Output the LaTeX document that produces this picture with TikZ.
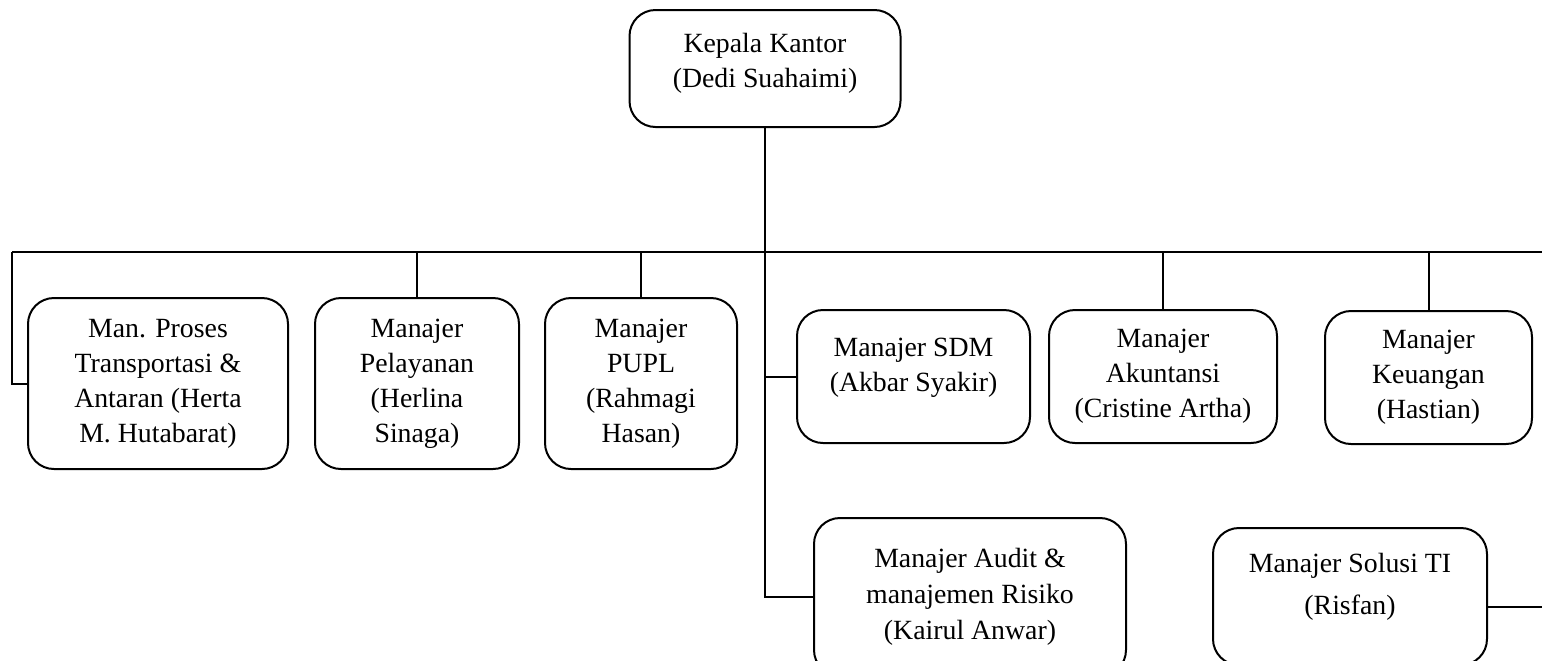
\documentclass[tikz,border=0pt]{standalone}
\usepackage{fontspec}
\setmainfont{Liberation Serif}
\tikzset{
  jabatan/.style={draw, line width=1pt, rounded corners=13pt, align=center,
    inner sep=0pt, font=\fontsize{13.9}{17.5}\selectfont},
  garis/.style={line width=1pt}
}
\begin{document}
\begin{tikzpicture}[x=0.5pt, y=-0.5pt]
            \useasboundingbox (0,0) rectangle (1542,660);
            \clip (0,0) rectangle (1542,660);

            \node (kepala) [jabatan, minimum width=135.5pt, minimum height=58.5pt] at (765,68.5) {Kepala Kantor\\(Dedi Suahaimi)\\[-9.5pt]};

            \node (proses) [jabatan, minimum width=130pt, minimum height=85.5pt] at (158,383.5) {Man. Proses\\Transportasi \&\\Antaran (Herta\\M. Hutabarat)};
            \node (pelayanan) [jabatan, minimum width=102pt, minimum height=85.5pt] at (417,383.5) {Manajer\\Pelayanan\\(Herlina\\Sinaga)};
            \node (pupl) [jabatan, minimum width=96pt, minimum height=85.5pt] at (641,383.5) {Manajer\\PUPL\\(Rahmagi\\Hasan)};
            \node (sdm) [jabatan, minimum width=116.5pt, minimum height=66.5pt] at (913.5,376.5) {Manajer SDM\\(Akbar Syakir)\\[-5.5pt]};
            \node (akuntansi) [jabatan, minimum width=114pt, minimum height=66.5pt] at (1163,376.5) {Manajer\\Akuntansi\\(Cristine Artha)};
            \node (keuangan) [jabatan, minimum width=103.5pt, minimum height=66.5pt] at (1428.5,377.5) {Manajer\\Keuangan\\(Hastian)};

            \node (audit) [jabatan, minimum width=156pt, minimum height=79pt] at (970,597) {Manajer Audit \&\\[0.5pt]manajemen Risiko\\[0.5pt](Kairul Anwar)};
            \node (solusi) [jabatan, minimum width=137pt, minimum height=68.5pt] at (1350,596.5) {Manajer Solusi TI\\[3.5pt](Risfan)\\[-5pt]};

            \coordinate (busL) at (12,252);
            \coordinate (busR) at (1542,252);
            \coordinate (tiR) at (1542,607);

            \draw[garis] (busL) -- (busR);
            \draw[garis] (kepala.south) -- (kepala.south |- audit.west) -- (audit.west);
            \draw[garis] (kepala.south |- sdm.west) -- (sdm.west);
            \draw[garis] (busL) |- (proses.west);
            \draw[garis] (pelayanan.north) -- (pelayanan.north |- busL);
            \draw[garis] (pupl.north) -- (pupl.north |- busL);
            \draw[garis] (akuntansi.north) -- (akuntansi.north |- busL);
            \draw[garis] (keuangan.north) -- (keuangan.north |- busL);
            \draw[garis] (solusi.east |- tiR) -- (tiR);
        \end{tikzpicture}
\end{document}
